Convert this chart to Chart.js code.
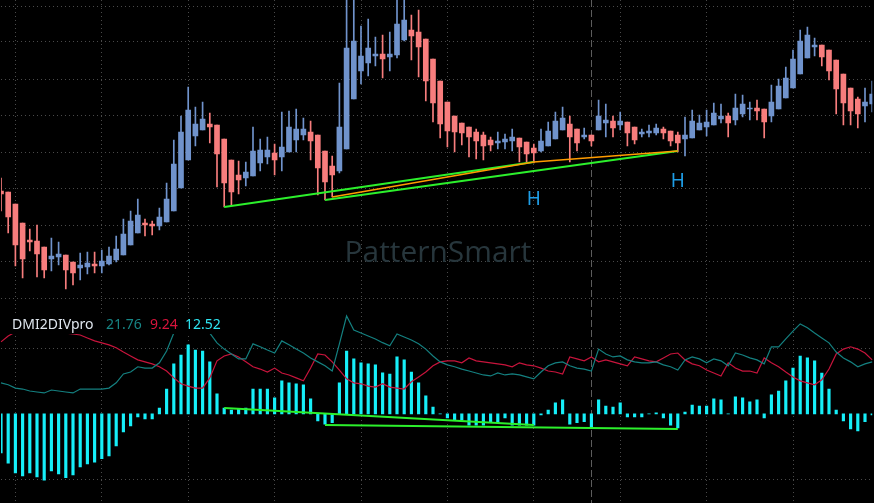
<!DOCTYPE html>
<html>
<head>
<meta charset="utf-8">
<script src="https://cdn.jsdelivr.net/npm/chart.js@4.4.1/dist/chart.umd.min.js"></script>
<style>
  html, body { margin: 0; background: #000; overflow: hidden; }
  canvas { display: block; }
</style>
</head>
<body>
<canvas id="chart" width="874" height="503"></canvas>
<script>
// ---- price candles (chart units, no axis labels shown on the source) ----
const open = [109,108,96,77,60,59,53,41,43,45, 38,32,33,36,34,36,40,45,55,67,
  77,76,74,78,89,112,140,164,170,176, 175,161,140,125,122,124,137,143,147,143,
  148,160,165,168,165,149,134,129,151,201, 229,237,244,246,243,245,260,270,268,261,
  241,219,198,184,177,173,168,165,160,157, 158,159,162,158,152,149,154,161,170,176,
  171,163,165,170,177,179,175,178,173,166, 167,167,171,169,165,161,162,170,173,175,
  181,184,180,186,191,192,191,184,191,202, 212,226,242,253,255,250,240,226,212,201,
  194,196];
const high = [122,108,96,77,71,75,53,62,58,45, 38,47,48,48,50,53,64,81,89,101,
  81,79,92,117,160,184,213,193,198,187, 175,161,140,139,138,173,161,163,156,188,
  189,191,182,179,165,149,144,217,305,305, 274,281,263,265,268,302,302,285,290,261,
  241,219,198,184,177,173,171,168,163,168, 166,171,162,158,156,171,178,188,193,184,
  171,172,165,200,196,184,188,178,173,171, 175,176,173,169,168,183,190,185,190,197,
  196,187,206,205,198,200,191,215,221,233, 250,270,273,262,255,250,240,226,212,203,
  212,219];
const low = [89,67,34,22,49,23,22,29,35,11, 15,20,26,27,27,35,38,45,55,67,
  64,65,70,78,89,112,140,154,170,157, 113,93,95,106,114,124,129,136,125,129,
  148,148,160,140,105,100,103,127,151,201, 216,224,234,222,229,242,259,240,223,199,
  178,162,153,148,155,143,141,140,149,151, 151,149,138,138,137,148,154,161,170,138,
  149,161,154,170,163,163,170,154,156,163, 163,165,161,154,148,144,162,170,164,175,
  177,163,175,183,180,180,162,178,191,202, 212,226,242,244,234,220,186,175,175,172,
  178,188];
const close = [106,83,55,41,58,46,30,44,46,30, 27,35,37,34,39,44,51,66,79,85,
  75,74,83,101,136,168,190,176,181,173, 146,117,108,120,128,149,150,150,140,153,
  173,171,171,159,132,118,125,173,252,259, 244,252,246,241,246,276,280,264,253,219,
  197,176,169,168,167,163,159,154,155,159, 161,163,153,146,147,159,169,179,182,163,
  157,165,159,184,180,172,179,167,160,168, 169,172,167,159,157,165,179,177,178,187,
  184,177,192,196,192,189,178,198,214,222, 241,259,265,255,243,229,211,197,189,186,
  198,206];

// ---- DMI2DIVpro panel ----
const diPlus = [9.5,8.9,7.9,7.6,7.0,6.7,6.4,7.3,7.0,6.7, 6.4,7.6,7.6,7.6,7.6,7.9,9.5,12.2,12.8,14.4,
  14.0,14.0,15.6,19.2,24.7,28.1,29.9,28.7,27.2,24.7, 21.7,19.8,18.3,16.8,16.8,21.4,20.5,19.5,18.6,22.3,
  21.1,19.8,18.6,17.1,15.9,14.7,13.1,21.4,29.9,25.6, 24.7,23.8,22.9,21.76,20.8,24.4,23.5,22.6,21.4,19.8,
  17.7,15.9,15.0,14.4,13.7,13.1,12.5,11.9,11.6,12.5, 11.9,12.2,11.9,11.3,10.7,12.8,14.7,15.6,15.9,14.7,
  14.0,13.7,13.1,19.8,18.3,17.4,17.7,16.5,15.9,15.6, 15.6,15.9,15.0,14.4,13.4,16.5,17.4,16.8,15.6,16.8,
  16.2,14.7,18.6,18.0,17.1,16.5,15.3,20.5,20.5,22.9, 25.3,27.5,26.3,24.7,23.2,21.7,18.9,17.1,15.9,14.4,
  15.3,15.9];
const diMinus = [22.0,23.8,25.0,25.6,26.3,26.6,26.3,25.6,24.7,24.7, 24.4,24.1,23.2,22.3,21.7,21.1,20.2,18.9,17.7,16.5,
  15.9,15.3,14.4,13.1,11.0,9.2,8.5,7.9,7.9,11.0, 16.2,17.7,18.3,17.4,15.9,14.4,13.7,12.8,14.0,12.5,
  11.9,11.0,10.1,14.0,18.3,18.0,15.9,13.4,10.7,9.5, 9.2,8.5,8.2,9.24,8.2,7.9,7.6,9.8,11.3,12.8,
  14.7,15.9,16.2,16.2,15.6,17.1,16.2,15.9,15.6,15.3, 15.0,14.4,15.6,15.0,14.7,14.0,13.1,12.8,12.2,17.4,
  16.8,16.2,17.4,15.9,16.5,15.9,15.3,14.7,17.4,16.8, 16.2,15.9,17.1,18.3,18.6,16.5,15.3,14.7,13.4,12.5,
  11.6,15.6,14.0,13.1,13.1,12.5,17.1,15.6,14.4,12.8, 11.3,10.1,9.5,8.9,10.4,13.7,18.3,19.8,20.5,19.8,
  18.6,16.5];
const diHist = [-11.9,-15.0,-18.0,-18.9,-18.0,-19.2,-20.2,-17.4,-18.3,-19.5, -18.6,-16.2,-15.3,-14.7,-13.7,-12.8,-9.8,-5.5,-3.7,-0.9,
  -1.5,-1.5,1.8,7.6,15.3,18.0,21.1,19.5,19.2,15.9, 6.1,1.8,1.2,1.5,1.8,7.6,7.6,7.6,4.9,10.1,
  9.5,9.2,8.9,4.6,-2.1,-3.1,-2.7,9.5,19.2,16.8, 15.6,15.3,15.0,12.52,12.2,17.4,16.5,12.8,9.5,5.5,
  2.1,0,-1.2,-1.8,-1.8,-3.4,-3.4,-3.4,-2.7,-2.7, -1.2,-3.4,-3.4,-3.4,-3.4,-0.3,1.2,3.4,4.3,-3.1,
  -2.7,-2.4,-4.3,4.3,2.4,2.1,3.4,-0.9,-0.9,-0.9, 0,0.3,-1.2,-3.4,-4.3,0.6,2.7,2.4,2.4,4.6,
  4.3,0,5.2,4.9,3.7,4.3,-1.2,5.8,7.0,10.1, 14.0,17.7,17.1,16.2,12.5,7.6,1.2,-2.1,-4.6,-5.2,
  -2.4,-0.3];

// divergence lines: [bar index, value]
const priceLineA = [[31, 93], [74, 138]];
const priceLineB = [[45, 100], [94, 149]];
const priceLineC = [[46, 103], [74, 138], [94, 149]];
const histLineA = [[31, 1.8], [74, -3.4]];
const histLineB = [[45, -3.4], [94, -4.6]];
const hMarks = [[74, 100], [94, 118]];

const priceGrid = [294, 258, 221, 184, 148, 112, 75, 39, 2];
const diGrid = [20, -20];
const CURSOR = 53;      // bar shown in the indicator legend
const SEPARATOR = 82;   // dashed period separator

const N = open.length;
const labels = open.map((_, i) => String(i + 1));
const BULL = '#7093cc', BEAR = '#f77d7d', GRID = '#4a4a4a';
const candleColor = i => (close[i] >= open[i] ? BULL : BEAR);
const lineData = pts => {
  const a = new Array(N).fill(null);
  pts.forEach(([i, v]) => { a[i] = v; });
  return a;
};
const trend = (pts, axis, color, width, order) => ({
  type: 'line', data: lineData(pts), yAxisID: axis, borderColor: color,
  borderWidth: width, pointRadius: 0, spanGaps: true, tension: 0, order
});

const overlay = {
  id: 'overlay',
  beforeDatasetsDraw(chart) {
    const { ctx, scales: { x } } = chart;
    ctx.save();
    ctx.strokeStyle = '#5c5c5c';
    ctx.lineWidth = 1;
    ctx.setLineDash([7, 3]);
    const sx = Math.round(x.getPixelForValue(SEPARATOR)) + 0.5;
    ctx.beginPath(); ctx.moveTo(sx, 0); ctx.lineTo(sx, chart.height); ctx.stroke();
    ctx.setLineDash([]);
    // watermark
    ctx.font = '32px "Open Sans"';
    const w = ctx.measureText('PatternSmart').width;
    ctx.font = (32 * 187 / w).toFixed(1) + 'px "Open Sans"';
    ctx.fillStyle = '#27363c';
    ctx.textAlign = 'center';
    ctx.textBaseline = 'alphabetic';
    ctx.fillText('PatternSmart', 438, 262);
    ctx.restore();
  },
  afterDatasetsDraw(chart) {
    const { ctx, scales: { x, yp } } = chart;
    ctx.save();
    ctx.font = '19px "Noto Sans"';
    ctx.fillStyle = '#1e9de6';
    ctx.textAlign = 'center';
    ctx.textBaseline = 'middle';
    hMarks.forEach(([i, v]) => ctx.fillText('H', x.getPixelForValue(i), yp.getPixelForValue(v)));
    // indicator legend
    ctx.fillStyle = '#000';
    ctx.fillRect(8, 313, 214, 21);
    ctx.font = '14px "Noto Sans"';
    ctx.textAlign = 'left';
    ctx.textBaseline = 'alphabetic';
    const items = [
      ['DMI2DIVpro', '#dfe6ee', 12],
      [diPlus[CURSOR].toFixed(2), '#178686', 106],
      [diMinus[CURSOR].toFixed(2), '#d8143c', 150],
      [diHist[CURSOR].toFixed(2), '#2ee6f2', 185]
    ];
    items.forEach(([t, c, px]) => { ctx.fillStyle = c; ctx.fillText(t, px, 329); });
    ctx.restore();
  }
};

new Chart(document.getElementById('chart'), {
  type: 'bar',
  data: {
    labels,
    datasets: [
      trend(priceLineC, 'yp', '#ff9c00', 1.5, 0),
      trend(priceLineA, 'yp', '#2cf02c', 2, 1),
      trend(priceLineB, 'yp', '#2cf02c', 2, 1),
      trend(histLineA, 'yd', '#2cf02c', 2, 1),
      trend(histLineB, 'yd', '#2cf02c', 2, 1),
      { type: 'line', data: diPlus, yAxisID: 'yd', borderColor: '#148080', borderWidth: 1.2,
        pointRadius: 0, tension: 0, order: 2 },
      { type: 'line', data: diMinus, yAxisID: 'yd', borderColor: '#c8143c', borderWidth: 1.2,
        pointRadius: 0, tension: 0, order: 2 },
      { data: diHist, yAxisID: 'yd', backgroundColor: '#16eef8', barThickness: 2.5,
        grouped: false, order: 3 },
      { data: open.map((o, i) => [o, close[i]]), yAxisID: 'yp', barThickness: 5, minBarLength: 1,
        backgroundColor: c => candleColor(c.dataIndex), grouped: false, order: 4 },
      { data: low.map((l, i) => [l, high[i]]), yAxisID: 'yp', barThickness: 1,
        backgroundColor: c => candleColor(c.dataIndex), grouped: false, order: 5 }
    ]
  },
  options: {
    responsive: false,
    animation: false,
    events: [],
    layout: { padding: { left: 1, right: 1.8, top: 0, bottom: 0 } },
    plugins: { legend: { display: false }, tooltip: { enabled: false } },
    scales: {
      x: {
        type: 'category', offset: false,
        ticks: { display: false },
        grid: { offset: false, drawTicks: false, color: c => (c.index % 12 === 2 ? GRID : 'transparent') },
        border: { display: false, dash: [1, 3] }
      },
      yp: {
        position: 'left', min: -203, max: 300,
        afterBuildTicks: a => { a.ticks = priceGrid.map(v => ({ value: v })); },
        ticks: { display: false },
        grid: { drawTicks: false, color: GRID },
        border: { display: false, dash: [1, 3] }
      },
      yd: {
        position: 'left', min: -27.2, max: 126.4,
        afterBuildTicks: a => { a.ticks = diGrid.map(v => ({ value: v })); },
        ticks: { display: false },
        grid: { drawTicks: false, color: GRID },
        border: { display: false, dash: [1, 3] }
      }
    }
  },
  plugins: [overlay]
});
</script>
</body>
</html>
